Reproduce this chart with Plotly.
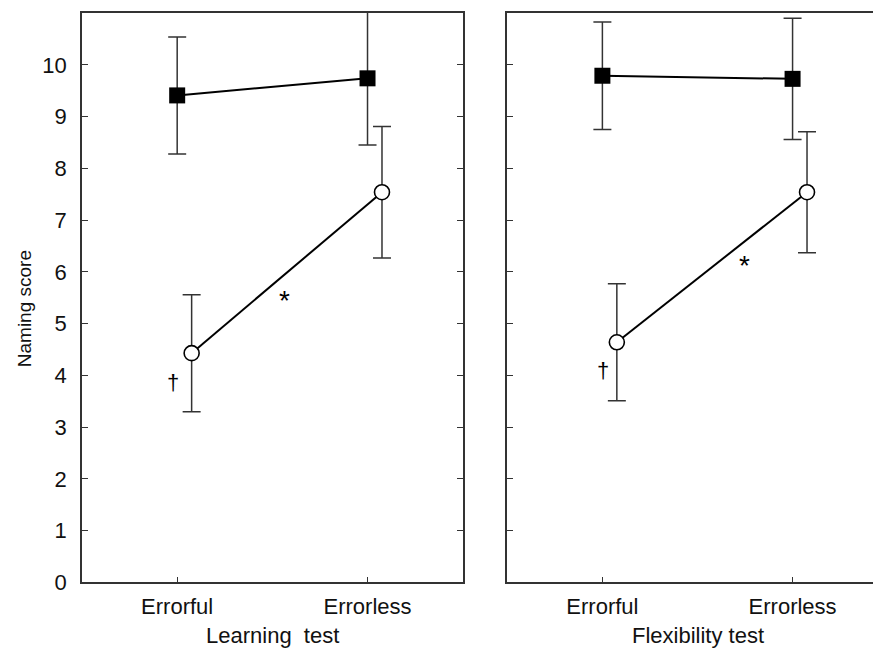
import plotly.graph_objects as go

categories = ["Errorful", "Errorless"]
y_ticks = [0, 1, 2, 3, 4, 5, 6, 7, 8, 9, 10]

learn_square_mean = [9.41, 9.74]
learn_square_err = [1.13, 1.29]
learn_circle_mean = [4.43, 7.54]
learn_circle_err = [1.13, 1.27]

flex_square_mean = [9.79, 9.73]
flex_square_err = [1.04, 1.17]
flex_circle_mean = [4.64, 7.54]
flex_circle_err = [1.13, 1.17]

panel_titles = ["Learning  test", "Flexibility test"]
y_title = "Naming score"

# page body adds an 8px margin; the capture is slightly compressed vertically
OFF = 8
SY = 0.983
W = 881 - OFF
H = round(649 / SY) - OFF
FONT = "Liberation Sans, Arial, Helvetica, sans-serif"
AX = "#333333"


def fx(px):
    return (px - OFF) / W


def fy(py):
    return 1 - (py / SY - OFF) / H


base_x = list(range(len(categories)))
circ_off = 0.076
circ_x = [v + circ_off for v in base_x]

fig = go.Figure()


def add_panel(xa, ya, sq_m, sq_e, ci_m, ci_e):
    fig.add_trace(go.Scatter(
        x=base_x, y=sq_m, mode="lines+markers", xaxis=xa, yaxis=ya,
        line=dict(color="black", width=2),
        marker=dict(symbol="square", size=16, color="black"),
        error_y=dict(type="data", array=sq_e, color=AX, thickness=1.5, width=9),
        showlegend=False, cliponaxis=False))
    fig.add_trace(go.Scatter(
        x=circ_x, y=ci_m, mode="lines+markers", xaxis=xa, yaxis=ya,
        line=dict(color="black", width=2),
        marker=dict(symbol="circle", size=15, color="white",
                    line=dict(color="black", width=1.6)),
        error_y=dict(type="data", array=ci_e, color=AX, thickness=1.5, width=9),
        showlegend=False, cliponaxis=False))


add_panel("x", "y", learn_square_mean, learn_square_err, learn_circle_mean, learn_circle_err)
add_panel("x2", "y2", flex_square_mean, flex_square_err, flex_circle_mean, flex_circle_err)

xd1 = [fx(82), fx(462.7)]
xd2 = [fx(507.3), 1.0]
yd = [fy(584), fy(13)]

common_x = dict(tickmode="array", tickvals=base_x, ticktext=categories,
                ticks="inside", ticklen=6, tickcolor=AX, tickwidth=1.3,
                showline=True, linecolor=AX, linewidth=1.5, mirror=True,
                showgrid=False, zeroline=False,
                tickfont=dict(family=FONT, size=22, color="#111"),
                ticklabelstandoff=3)
common_y = dict(tickmode="array", tickvals=y_ticks, range=[0, 11],
                ticks="inside", ticklen=6, tickcolor=AX, tickwidth=1.3,
                showline=True, linecolor=AX, linewidth=1.5,
                showgrid=False, zeroline=False,
                tickfont=dict(family=FONT, size=22, color="#111"))

fig.update_layout(
    width=W, height=H,
    margin=dict(l=0, r=0, t=0, b=0),
    plot_bgcolor="white", paper_bgcolor="white",
    xaxis=dict(common_x, domain=xd1, range=[-0.5, 1.5], anchor="y"),
    yaxis=dict(common_y, domain=yd, anchor="x", mirror="ticks",
               ticklabelstandoff=9),
    xaxis2=dict(common_x, domain=xd2, range=[-0.5, 1.465], anchor="y2"),
    yaxis2=dict(common_y, domain=yd, anchor="x2", mirror=False,
                showticklabels=False),
)

ann_font = dict(family=FONT, size=22, color="#111")
fig.add_annotation(x=fx(272), y=fy(637), xref="paper", yref="paper",
                   text=panel_titles[0], showarrow=False, font=ann_font,
                   xanchor="center", yanchor="middle")
fig.add_annotation(x=fx(697.7), y=fy(637), xref="paper", yref="paper",
                   text=panel_titles[1], showarrow=False, font=ann_font,
                   xanchor="center", yanchor="middle")
fig.add_annotation(x=fx(24), y=fy(310), xref="paper", yref="paper",
                   text=y_title, showarrow=False, textangle=-90,
                   font=dict(family=FONT, size=19, color="#111"),
                   xanchor="center", yanchor="middle")

# significance markers
ast_font = dict(family=FONT, size=28, color="black")
dag_font = dict(family=FONT, size=22, color="black")
fig.add_annotation(x=0.565, y=5.45, xref="x", yref="y", text="*", showarrow=False, font=ast_font)
fig.add_annotation(x=-0.02, y=3.86, xref="x", yref="y", text="†", showarrow=False, font=dag_font)
fig.add_annotation(x=0.745, y=6.12, xref="x2", yref="y2", text="*", showarrow=False, font=ast_font)
fig.add_annotation(x=0.003, y=4.1, xref="x2", yref="y2", text="†", showarrow=False, font=dag_font)

fig.write_html("out.html")
